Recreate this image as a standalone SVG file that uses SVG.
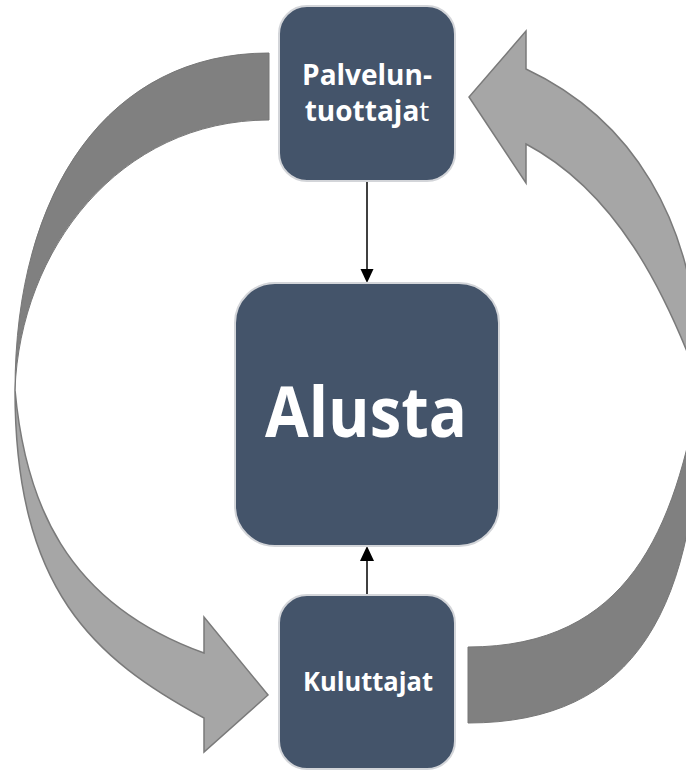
<svg xmlns="http://www.w3.org/2000/svg" width="686" height="771" viewBox="0 0 686 771">
  <style>
    .node { fill: #44546a; stroke: #d3d5d9; stroke-width: 2; }
    .lbl { font-family: "Open Sans", "Liberation Sans", sans-serif; font-weight: bold; fill: #ffffff; text-anchor: middle; }
    .dark { fill: #808080; stroke: #777777; stroke-width: 1; }
    .light { fill: #a6a6a6; stroke: #7a7a7a; stroke-width: 1.5; stroke-linejoin: miter; }
    .conn { stroke: #000000; stroke-width: 1.5; fill: none; }
    .head { fill: #000000; }
  </style>
  <rect width="686" height="771" fill="#ffffff"/>

  <g id="cycle-arrows">
    <g id="left-arrow">
      <path class="dark" d="M269,53 C109,53 15,190 15,390 C20,250 119,120 269,120 Z"/>
      <path class="light" d="M15,390 C15,590 94,658.6 204,718 L204,752 L268,695 L204,617 L204,653 C64,602.6 25,500 15,390 Z"/>
    </g>
    <g id="right-arrow">
      <path class="dark" d="M468,723 C635,723 700,610 700,385 C675,530 628,647 468,647 Z"/>
      <path class="light" d="M700,385 C700,215 626,116 526,69 L526,31 L469,97 L526,183 L526,144 C616,191.7 665,290 700,385 Z"/>
    </g>
  </g>

  <g id="connectors">
    <line class="conn" x1="367" y1="181" x2="367" y2="270"/>
    <polygon class="head" points="360.5,269 373.5,269 367,283"/>
    <line class="conn" x1="367" y1="595" x2="367" y2="560"/>
    <polygon class="head" points="360,561 374,561 367,546"/>
  </g>

  <g id="node-palveluntuottajat">
    <rect class="node" x="279" y="6" width="176" height="175" rx="28" ry="28"/>
    <text class="lbl" x="367" y="85" font-size="28">Palvelun-</text>
    <text class="lbl" x="367" y="121" font-size="28">tuottaja<tspan font-weight="normal">t</tspan></text>
  </g>

  <g id="node-alusta">
    <rect class="node" x="235" y="283" width="264" height="263" rx="40" ry="40"/>
    <text class="lbl" x="366" y="437" font-size="69" textLength="202" lengthAdjust="spacingAndGlyphs">Alusta</text>
  </g>

  <g id="node-kuluttajat">
    <rect class="node" x="279" y="595" width="176" height="174" rx="28" ry="28"/>
    <text class="lbl" x="368" y="691" font-size="27" textLength="130" lengthAdjust="spacingAndGlyphs">Kuluttajat</text>
  </g>
</svg>
